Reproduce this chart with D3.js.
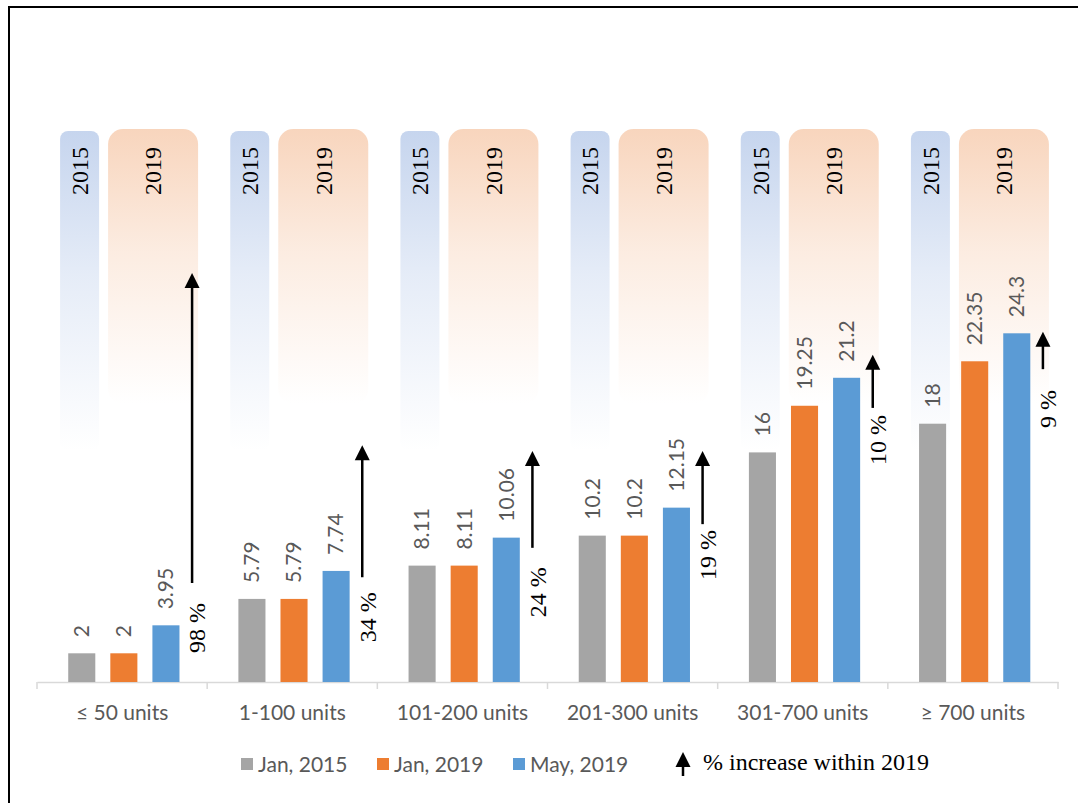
<!DOCTYPE html>
<html>
<head>
<meta charset="utf-8">
<script src="https://cdn.jsdelivr.net/npm/d3@7"></script>
<style>
  html, body { margin: 0; padding: 0; background: #fff; }
  svg { display: block; }
</style>
</head>
<body>
<svg id="chart" width="1078" height="803"></svg>
<script>
// Tariff slabs and rates
const categories = ["≤ 50 units", "1-100 units", "101-200 units", "201-300 units", "301-700 units", "≥ 700 units"];
const seriesNames = ["Jan, 2015", "Jan, 2019", "May, 2019"];
const jan2015 = [2, 5.79, 8.11, 10.2, 16, 18];
const jan2019 = [2, 5.79, 8.11, 10.2, 19.25, 22.35];
const may2019 = [3.95, 7.74, 10.06, 12.15, 21.2, 24.3];
const seriesColors = ["#a5a5a5", "#ed7d31", "#5b9bd5"];

// Increase within 2019, with the arrow span and label position in rate units
const pctLabels = ["98 %", "34 %", "24 %", "19 %", "10 %", "9 %"];
const arrowFrom = [6.9, 7.3, 9.35, 11.0, 19.1, 21.8];
const arrowTo = [28.5, 16.5, 16.1, 16.1, 22.8, 24.4];
const pctLabelTop = [5.5, 6.25, 8.0, 10.6, 18.6, 20.35];

const yearTags = ["2015", "2019"];
const legendNote = "% increase within 2019";

const svg = d3.select("#chart");
const axisY = 682;

const x = d3.scaleBand().domain(categories).range([37, 1058]).padding(0);
const xs = d3.scaleBand().domain(seriesNames).range([0, x.bandwidth()])
  .paddingInner(0.357).paddingOuter(0.7).align(0.53);
const y = d3.scaleLinear().domain([0, 30]).range([axisY, axisY - 30 * 14.35]);

const defs = svg.append("defs");
const tagColors = ["#c6d5ee", "#f8d5bd"];
tagColors.forEach((c, i) => {
  const g = defs.append("linearGradient").attr("id", "fade" + i)
    .attr("x1", 0).attr("y1", 0).attr("x2", 0).attr("y2", 1);
  g.append("stop").attr("offset", "0%").attr("stop-color", c).attr("stop-opacity", 1);
  g.append("stop").attr("offset", "45%").attr("stop-color", c).attr("stop-opacity", 0.45);
  g.append("stop").attr("offset", "100%").attr("stop-color", c).attr("stop-opacity", 0);
});

// Frame
svg.append("path").attr("d", "M9,803V7H1078").attr("fill", "none")
  .attr("stroke", "#000").attr("stroke-width", 2);

// Year capsules above each slab
const tagGeom = [
  { dx0: -62, dx1: -23, top: 131, h: 320, r: 8 },
  { dx0: -14, dx1: 76, top: 129, h: 275, r: 15 }
];
categories.forEach(cat => {
  const cx = x(cat) + x.bandwidth() / 2;
  yearTags.forEach((t, i) => {
    const gm = tagGeom[i];
    svg.append("rect")
      .attr("x", cx + gm.dx0).attr("y", gm.top)
      .attr("width", gm.dx1 - gm.dx0).attr("height", gm.h)
      .attr("rx", gm.r).attr("ry", gm.r)
      .attr("fill", `url(#fade${i})`);
    const tx = cx + (gm.dx0 + gm.dx1) / 2;
    svg.append("text")
      .attr("transform", `translate(${tx},147) rotate(-90)`)
      .attr("text-anchor", "end").attr("dy", "0.35em")
      .attr("font-family", "'Liberation Serif', 'Times New Roman', serif")
      .attr("font-size", 24).attr("fill", "#000")
      .text(t);
  });
});

// Axis
const xAxis = d3.axisBottom(x).tickSize(0).tickFormat(d => d);
const ax = svg.append("g").attr("transform", `translate(0,${axisY})`).call(xAxis);
ax.select(".domain").attr("stroke", "#d9d9d9").attr("stroke-width", 1.5);
ax.selectAll(".tick text")
  .attr("font-family", "Lato, 'Open Sans', sans-serif").attr("font-size", 21)
  .attr("fill", "#595959").attr("dy", 0).attr("y", 38);
const edges = categories.map(c => x(c)).concat([x.range()[1]]);
svg.append("g").selectAll("line").data(edges).join("line")
  .attr("x1", d => d).attr("x2", d => d)
  .attr("y1", axisY).attr("y2", axisY + 7)
  .attr("stroke", "#d9d9d9").attr("stroke-width", 1.5);

// Bars and value labels
const series = [jan2015, jan2019, may2019];
series.forEach((vals, si) => {
  const g = svg.append("g");
  g.selectAll("rect").data(vals).join("rect")
    .attr("x", (d, i) => x(categories[i]) + xs(seriesNames[si]))
    .attr("y", d => y(d))
    .attr("width", xs.bandwidth())
    .attr("height", d => y(0) - y(d))
    .attr("fill", seriesColors[si]);
  g.selectAll("text").data(vals).join("text")
    .attr("transform", (d, i) =>
      `translate(${x(categories[i]) + xs(seriesNames[si]) + xs.bandwidth() / 2},${y(d) - 16}) rotate(-90)`)
    .attr("dy", "0.35em")
    .attr("font-family", "Lato, 'Open Sans', sans-serif").attr("font-size", 21)
    .attr("fill", "#595959")
    .text(d => String(d));
});

// Arrows marking the increase within 2019
function arrow(g, x0, yBottom, yTip) {
  g.append("line").attr("x1", x0).attr("x2", x0)
    .attr("y1", yBottom).attr("y2", yTip + 12)
    .attr("stroke", "#000").attr("stroke-width", 2.5);
  g.append("path")
    .attr("d", `M${x0},${yTip}L${x0 - 7.5},${yTip + 15}L${x0 + 7.5},${yTip + 15}Z`)
    .attr("fill", "#000");
}
const arrows = svg.append("g");
categories.forEach((cat, i) => {
  const cx = x(cat) + x.bandwidth() / 2;
  arrow(arrows, cx + 70, y(arrowFrom[i]), y(arrowTo[i]));
  arrows.append("text")
    .attr("transform", `translate(${cx + 75},${y(pctLabelTop[i])}) rotate(-90)`)
    .attr("text-anchor", "end").attr("dy", "0.35em")
    .attr("font-family", "'Liberation Serif', 'Times New Roman', serif")
    .attr("font-size", 24).attr("fill", "#000")
    .text(pctLabels[i]);
});

// Legend
const legendX = [241, 377, 513];
const legend = svg.append("g");
seriesNames.forEach((s, i) => {
  legend.append("rect").attr("x", legendX[i]).attr("y", 758)
    .attr("width", 12).attr("height", 12).attr("fill", seriesColors[i]);
  legend.append("text").attr("x", legendX[i] + 17).attr("y", 772)
    .attr("font-family", "Lato, 'Open Sans', sans-serif").attr("font-size", 21)
    .attr("fill", "#595959").text(s);
});
arrow(legend, 683, 776, 752);
legend.append("text").attr("x", 703).attr("y", 770)
  .attr("font-family", "'Liberation Serif', 'Times New Roman', serif")
  .attr("font-size", 24).attr("fill", "#000").text(legendNote);
</script>
</body>
</html>
